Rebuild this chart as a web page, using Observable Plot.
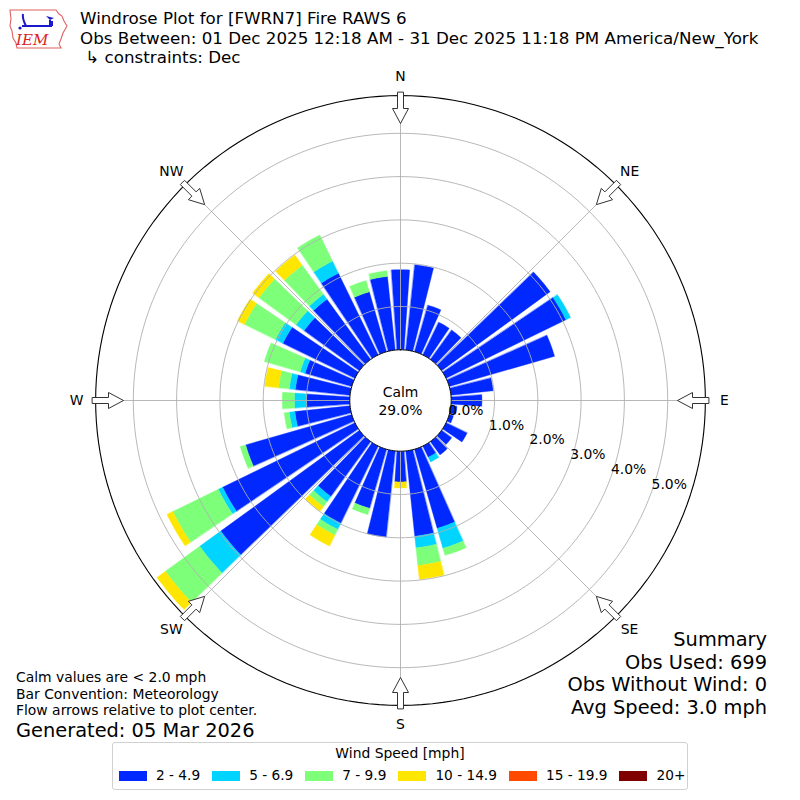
<!DOCTYPE html>
<html>
<head>
<meta charset="utf-8">
<script src="https://cdn.jsdelivr.net/npm/d3@7"></script>
<script src="https://cdn.jsdelivr.net/npm/@observablehq/plot@0.6"></script>
<style>
  body { margin: 0; background: #fff; font-family: "DejaVu Sans", sans-serif; }
  #wrap { position: relative; width: 800px; height: 800px; overflow: hidden; background: #fff; }
  #wrap svg.plot { position: absolute; left: 0; top: 0; }
  .t { position: absolute; white-space: nowrap; line-height: 1; color: #000; }
  #legend { position: absolute; left: 112px; top: 742px; width: 574px; height: 46px;
            border: 1px solid #d0d0d0; border-radius: 3px; background: #fff; }
  #legend .ttl { position: absolute; left: 0; right: 0; top: 4px; text-align: center; font-size: 13.9px; line-height: 1; }
  #legend .row { position: absolute; left: 6px; top: 26px; display: flex; align-items: center; gap: 12px; }
  #legend .item { display: flex; align-items: center; gap: 9px; font-size: 13.7px; line-height: 1; }
  #legend .sw { width: 28px; height: 10px; }
</style>
</head>
<body>
<div id="wrap"></div>
<script>
// ---------------- data ----------------
const directions = [0,10,20,30,40,50,60,70,80,90,100,110,120,130,140,150,160,170,180,190,200,210,220,230,240,250,260,270,280,290,300,310,320,330,340,350];
const speedBins = ["2 - 4.9","5 - 6.9","7 - 9.9","10 - 14.9","15 - 19.9","20+"];
const binColors = ["#0028ff","#00d4ff","#7dff7a","#ffe600","#ff4a00","#800000"];
// percent of observations per direction, per speed bin
const pct_2_4   = [1.85,1.98,1.12,0.84,0.84,3.10,3.08,2.53,0.98,0.71,0.14,0.10,0.54,0.29,0.38,0.29,1.90,1.98,0.71,2.00,1.42,1.98,1.57,3.96,3.40,2.55,1.28,1.00,1.27,1.12,1.85,1.58,1.72,2.10,1.44,1.71];
const pct_5_6   = [0,0,0,0,0,0,0.12,0,0,0,0,0,0,0,0,0.12,0.48,0.27,0,0,0,0.16,0.15,0.60,0.11,0,0.13,0.28,0.14,0.12,0.19,0.23,0.14,0.31,0,0];
const pct_7_9   = [0,0,0,0,0,0,0,0,0,0,0,0,0,0,0,0,0.17,0.41,0,0,0.15,0.15,0.14,0.98,1.17,0.13,0.12,0.28,0.25,0.86,0.80,1.06,0.83,0.67,0.27,0.13];
const pct_10_14 = [0,0,0,0,0,0,0,0,0,0,0,0,0,0,0,0,0,0.32,0.14,0,0,0.28,0.13,0.24,0.15,0,0,0,0.32,0,0.18,0.18,0.29,0,0,0];
const pct_15_19 = [0,0,0,0,0,0,0,0,0,0,0,0,0,0,0,0,0,0,0,0,0,0,0,0,0,0,0,0,0,0,0,0,0,0,0,0];
const pct_20p   = [0,0,0,0,0,0,0,0,0,0,0,0,0,0,0,0,0,0,0,0,0,0,0,0,0,0,0,0,0,0,0,0,0,0,0,0];
const ringTicks = [0,1,2,3,4,5];
const radialMax = 5.87;
const compassLabels = ["N","NE","E","SE","S","SW","W","NW"];
const compassDeg = [0,45,90,135,180,225,270,315];
const calmPct = 29.0;
const titleLines = ["Windrose Plot for [FWRN7] Fire RAWS 6",
  "Obs Between: 01 Dec 2025 12:18 AM - 31 Dec 2025 11:18 PM America/New_York",
  "\u00a0\u21b3 constraints: Dec"];
const summaryLines = ["Summary","Obs Used: 699","Obs Without Wind: 0","Avg Speed: 3.0 mph"];
const noteLines = ["Calm values are < 2.0 mph","Bar Convention: Meteorology","Flow arrows relative to plot center."];
const generated = "Generated: 05 Mar 2026";
const legendTitle = "Wind Speed [mph]";

// ---------------- geometry helpers ----------------
const R = d3.scaleLinear().domain([0, 5]).range([50.7, 267.2]); // percent -> radius
const rad = d => d * Math.PI / 180;
const polar = (r, deg) => [r * Math.sin(rad(deg)), r * Math.cos(rad(deg))];
const series = [pct_2_4, pct_5_6, pct_7_9, pct_10_14, pct_15_19, pct_20p];
const halfWidth = 4;

const wedges = [];
directions.forEach((dir, i) => {
  let base = 0;
  series.forEach((vals, b) => {
    const v = vals[i];
    if (v > 0) {
      const id = dir + "-" + b;
      const r0 = R(base), r1 = R(base + v);
      const pts = [];
      for (let k = 0; k <= 8; k++) pts.push(polar(r0, dir - halfWidth + k * halfWidth / 4));
      for (let k = 8; k >= 0; k--) pts.push(polar(r1, dir - halfWidth + k * halfWidth / 4));
      pts.forEach(([x, y]) => wedges.push({id, bin: speedBins[b], x, y}));
    }
    base += v;
  });
});

function circle(r, id) {
  const out = [];
  for (let a = 0; a <= 360; a += 2) { const [x, y] = polar(r, a); out.push({id, x, y}); }
  return out;
}
const rings = ringTicks.filter(t => t > 0).flatMap(t => circle(R(t), t));
const calmCircle = circle(R(0), "calm");
const outerCircle = circle(R(radialMax), "outer");

// hollow arrows pointing inward at the compass points
const arrowShape = [[308,-3],[292,-3],[292,-8],[277,0],[292,8],[292,3],[308,3]];
const arrows = compassDeg.flatMap(deg => arrowShape.map(([r, s]) => {
  const [x, y] = polar(r, deg);
  return {id: deg, x: x + s * Math.cos(rad(deg)), y: y - s * Math.sin(rad(deg))};
}));

const chart = Plot.plot({
  width: 800, height: 800, margin: 0,
  x: {domain: [-400, 400], axis: null},
  y: {domain: [-400, 400], axis: null},
  color: {domain: speedBins, range: binColors},
  style: {background: "transparent", fontFamily: "DejaVu Sans, sans-serif", fontSize: "13.9px", overflow: "visible"},
  marks: [
    Plot.line(wedges, {x: "x", y: "y", z: "id", fill: "bin", stroke: "bin", strokeWidth: 0.4, curve: "linear-closed"}),
    Plot.line(rings, {x: "x", y: "y", z: "id", stroke: "#b0b0b0", strokeWidth: 0.9}),
    Plot.link(compassDeg, {x1: d => polar(R(0), d)[0], y1: d => polar(R(0), d)[1],
                            x2: d => polar(R(radialMax), d)[0], y2: d => polar(R(radialMax), d)[1],
                            stroke: "#b0b0b0", strokeWidth: 0.9}),
    Plot.line(calmCircle, {x: "x", y: "y", fill: "white", stroke: "black", strokeWidth: 1, curve: "linear-closed"}),
    Plot.line(outerCircle, {x: "x", y: "y", stroke: "black", strokeWidth: 1.1}),
    Plot.line(arrows, {x: "x", y: "y", z: "id", fill: "white", stroke: "#333", strokeWidth: 1, curve: "linear-closed", strokeLinejoin: "miter"}),
    Plot.text(compassLabels, {x: (d, i) => polar(324, compassDeg[i])[0], y: (d, i) => polar(324, compassDeg[i])[1],
                              text: d => d, fontSize: 13.9, fill: "black"}),
    Plot.text(ringTicks, {x: d => polar(R(d), 110)[0], y: d => polar(R(d), 110)[1], dy: -7.5,
                          text: d => d.toFixed(1) + "%", textAnchor: "start", fontSize: 13.9, fill: "black"}),
    Plot.text([calmPct], {x: () => 0, y: () => 0, text: d => "Calm\n" + d.toFixed(1) + "%",
                          lineHeight: 1.24, fontSize: 13.9, fill: "black"})
  ]
});
const wrap = document.getElementById("wrap");
wrap.appendChild(chart);

// ---------------- text overlays ----------------
function addText(txt, css) {
  const d = document.createElement("div");
  d.className = "t";
  d.textContent = txt;
  Object.assign(d.style, css);
  wrap.appendChild(d);
}
titleLines.forEach((s, i) => addText(s, {left: "80px", top: (10 + i * 19.5) + "px", fontSize: "16.7px"}));
summaryLines.forEach((s, i) => addText(s, {right: "33px", top: (630 + i * 22.5) + "px", fontSize: "19.4px"}));
noteLines.forEach((s, i) => addText(s, {left: "16px", top: (671 + i * 16.5) + "px", fontSize: "13.9px"}));
addText(generated, {left: "16px", top: "721px", fontSize: "19.4px"});

// logo
const logo = document.createElement("div");
logo.style.cssText = "position:absolute;left:4px;top:4px;width:64px;height:48px;";
logo.innerHTML = `<svg width="64" height="48" viewBox="0 0 64 48">
  <path d="M6,6 L52,6 L55,10 L58,12 L60,17 L63,22 L59,29 L57,35 L55,40 L57,44 L13,44 L12,39 L9,34 L8,27 L6,22 L7,15 Z"
        fill="none" stroke="#e06060" stroke-width="1.1"/>
  <path d="M18,22 L48,22 M48,22 L48,17 M46,22 L46,16 M22,22 C20,18 18,14 19,10" fill="none" stroke="#1a1acc" stroke-width="2"/>
  <circle cx="16" cy="24" r="1.6" fill="#1a1acc"/>
  <path d="M42,12 L50,14 L46,16 Z" fill="#1a1acc"/>
  <text x="12" y="41" font-family="DejaVu Serif, serif" font-style="italic" font-size="15" fill="#d22">IEM</text>
</svg>`;
wrap.appendChild(logo);

// legend
const legend = document.createElement("div");
legend.id = "legend";
legend.innerHTML = `<div class="ttl">${legendTitle}</div><div class="row">` +
  speedBins.map((b, i) => `<div class="item"><div class="sw" style="background:${binColors[i]}"></div><span>${b}</span></div>`).join("") +
  `</div>`;
wrap.appendChild(legend);
</script>
</body>
</html>
